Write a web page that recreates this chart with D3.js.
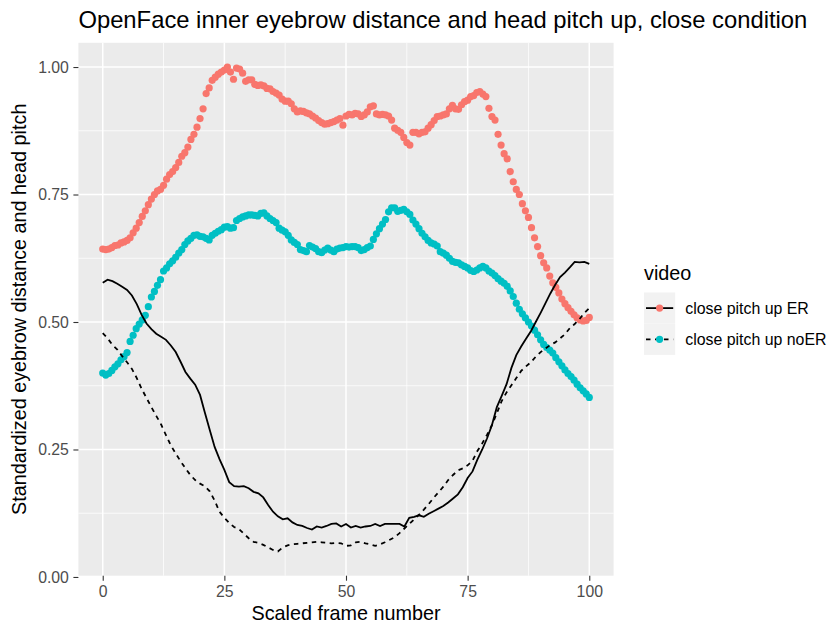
<!DOCTYPE html>
<html><head><meta charset="utf-8">
<script src="https://cdn.jsdelivr.net/npm/d3@7"></script>
<style>
body{margin:0;background:#fff}
text{font-family:"Liberation Sans",Arial,Helvetica,sans-serif}
</style>
</head><body>
<svg id="c" width="835" height="625"></svg>
<script>
const titleText = "OpenFace inner eyebrow distance and head pitch up, close condition";
const xLabel = "Scaled frame number";
const yLabel = "Standardized eyebrow distance and head pitch";
const legendTitle = "video";
const seriesNames = ["close pitch up ER", "close pitch up noER"];
const seriesColors = ["#F8766D", "#00BFC4"];
const seriesDash = [null, "4.5,4.5"];
const xTicks = [0, 25, 50, 75, 100];
const xTickLabels = ["0", "25", "50", "75", "100"];
const yTicks = [0, 0.25, 0.5, 0.75, 1];
const yTickLabels = ["0.00", "0.25", "0.50", "0.75", "1.00"];

// scaled frame numbers (evenly spaced sampling of the 0–100 axis)
const dotFrames = d3.range(161).map(i => i * 0.625);
const lineFrames = d3.range(101);

// eyebrow distance (points)
const browER = [
.643,.642,.643,.646,.650,.651,.655,.657,
.660,.665,.675,.684,.695,.707,.718,.730,
.741,.750,.757,.760,.768,.780,.789,.795,
.803,.813,.825,.832,.843,.858,.868,.882,
.899,.918,.948,.959,.974,.980,.986,.990,
.994,1.000,.990,.976,.998,.996,.988,.972,
.975,.975,.966,.964,.965,.963,.958,.957,
.952,.949,.945,.937,.933,.933,.928,.918,
.912,.914,.913,.910,.908,.904,.900,.895,
.891,.888,.889,.891,.893,.896,.899,.886,
.904,.907,.906,.909,.908,.903,.906,.912,
.922,.924,.908,.906,.907,.906,.904,.896,
.880,.876,.872,.862,.852,.847,.872,.872,
.869,.872,.873,.880,.887,.895,.903,.904,
.906,.908,.918,.925,.918,.917,.926,.932,
.935,.942,.944,.950,.952,.947,.942,.919,
.903,.896,.868,.847,.830,.820,.795,.775,
.760,.750,.732,.718,.705,.685,.665,.648,
.630,.616,.606,.590,.577,.568,.557,.545,
.536,.528,.521,.514,.508,.504,.502,.503,
.509];
const browNoER = [
.400,.396,.399,.405,.412,.418,.426,.432,
.440,.462,.474,.487,.496,.504,.513,.530,
.549,.560,.572,.583,.600,.606,.614,.620,
.627,.635,.642,.652,.659,.664,.670,.671,
.668,.667,.664,.661,.670,.674,.678,.681,
.686,.687,.684,.685,.699,.703,.706,.708,
.710,.710,.709,.708,.713,.714,.708,.703,
.699,.695,.684,.680,.677,.670,.661,.656,
.652,.642,.640,.638,.650,.647,.644,.638,
.636,.641,.645,.641,.638,.643,.645,.646,
.648,.647,.648,.648,.646,.640,.642,.646,
.649,.662,.673,.683,.692,.701,.716,.724,
.724,.717,.719,.721,.716,.711,.700,.692,
.683,.674,.667,.660,.655,.653,.649,.638,
.635,.631,.625,.619,.617,.616,.612,.609,
.606,.601,.599,.602,.606,.609,.606,.600,
.596,.591,.585,.580,.576,.570,.561,.550,
.537,.525,.516,.508,.500,.492,.484,.475,
.465,.456,.450,.445,.439,.430,.422,.414,
.406,.399,.393,.386,.378,.371,.365,.359,
.352];

// head pitch (lines)
const pitchER = [
.577,.583,.580,.575,.569,.563,.552,.535,.514,.497,
.486,.477,.471,.465,.454,.441,.422,.402,.389,.377,
.357,.322,.288,.255,.231,.210,.186,.178,.177,.178,
.174,.167,.164,.156,.141,.128,.119,.113,.115,.107,
.102,.100,.096,.093,.099,.097,.100,.104,.105,.099,
.104,.097,.100,.097,.099,.100,.104,.100,.104,.104,
.104,.104,.099,.116,.118,.121,.118,.124,.129,.134,
.139,.146,.154,.162,.176,.194,.207,.230,.250,.272,
.298,.333,.355,.378,.410,.435,.452,.467,.482,.500,
.518,.537,.556,.573,.588,.597,.607,.618,.617,.618,
.614];
const pitchNoER = [
.478,.468,.455,.446,.433,.421,.408,.390,.369,.351,
.333,.316,.299,.278,.258,.242,.227,.213,.200,.190,
.183,.178,.168,.150,.128,.116,.106,.098,.094,.085,
.076,.069,.067,.063,.058,.053,.050,.058,.062,.064,
.065,.066,.067,.068,.069,.068,.067,.066,.067,.066,
.061,.062,.068,.069,.066,.064,.061,.064,.068,.073,
.078,.086,.095,.104,.113,.122,.132,.143,.155,.166,
.177,.190,.200,.209,.213,.219,.228,.247,.262,.279,
.298,.321,.345,.362,.376,.390,.404,.413,.421,.432,
.441,.448,.455,.460,.468,.476,.488,.496,.506,.518,
.527];

const brow = [browER, browNoER];
const pitch = [pitchER, pitchNoER];

const svg = d3.select("#c");
const P = {left: 78.4, right: 613.6, top: 42.8, bottom: 575.7};

const xExt = [0, 100];
const xr = xExt[1] - xExt[0];
const x = d3.scaleLinear().domain([xExt[0] - 0.05 * xr, xExt[1] + 0.05 * xr]).range([P.left, P.right]);
const [ymn, ymx] = d3.extent(browER.concat(browNoER, pitchER, pitchNoER));
const yr = ymx - ymn;
const y = d3.scaleLinear().domain([ymn - 0.05 * yr, ymx + 0.05 * yr]).range([P.bottom, P.top]);

// panel
svg.append("rect").attr("x", P.left).attr("y", P.top)
  .attr("width", P.right - P.left).attr("height", P.bottom - P.top).attr("fill", "#EBEBEB");

const xMinor = [12.5, 37.5, 62.5, 87.5];
const yMinor = [0.125, 0.375, 0.625, 0.875];
const grid = svg.append("g");
grid.selectAll(".xm").data(xMinor).join("line")
  .attr("x1", d => x(d)).attr("x2", d => x(d)).attr("y1", P.top).attr("y2", P.bottom)
  .attr("stroke", "#fff").attr("stroke-width", 0.75);
grid.selectAll(".ym").data(yMinor).join("line")
  .attr("y1", d => y(d)).attr("y2", d => y(d)).attr("x1", P.left).attr("x2", P.right)
  .attr("stroke", "#fff").attr("stroke-width", 0.75);
grid.selectAll(".xM").data(xTicks).join("line")
  .attr("x1", d => x(d)).attr("x2", d => x(d)).attr("y1", P.top).attr("y2", P.bottom)
  .attr("stroke", "#fff").attr("stroke-width", 1.5);
grid.selectAll(".yM").data(yTicks).join("line")
  .attr("y1", d => y(d)).attr("y2", d => y(d)).attr("x1", P.left).attr("x2", P.right)
  .attr("stroke", "#fff").attr("stroke-width", 1.5);

// points
brow.forEach((vals, s) => {
  svg.append("g").selectAll("circle").data(vals).join("circle")
    .attr("cx", (d, i) => x(dotFrames[i])).attr("cy", d => y(d))
    .attr("r", 3.6).attr("fill", seriesColors[s]);
});

// lines
const line = d3.line().x((d, i) => x(lineFrames[i])).y(d => y(d));
pitch.forEach((vals, s) => {
  svg.append("path").datum(vals).attr("d", line)
    .attr("fill", "none").attr("stroke", "#000").attr("stroke-width", 1.8)
    .attr("stroke-dasharray", seriesDash[s]);
});

// axes
const xAxis = svg.append("g").attr("transform", `translate(0,${P.bottom})`)
  .call(d3.axisBottom(x).tickValues(xTicks).tickFormat((d, i) => xTickLabels[i]).tickSize(5).tickPadding(5));
const yAxis = svg.append("g").attr("transform", `translate(${P.left},0)`)
  .call(d3.axisLeft(y).tickValues(yTicks).tickFormat((d, i) => yTickLabels[i]).tickSize(5).tickPadding(4.5));
[xAxis, yAxis].forEach(a => {
  a.select(".domain").remove();
  a.selectAll(".tick line").attr("stroke", "#333333").attr("stroke-width", 1.1);
  a.selectAll(".tick text").attr("fill", "#4D4D4D").style("font-size", "15.8px")
    .style("font-family", '"Liberation Sans",Arial,sans-serif');
});

// titles
svg.append("text").attr("x", P.left).attr("y", 27.5).text(titleText)
  .style("font-size", "23.8px").attr("fill", "#000");
svg.append("text").attr("x", (P.left + P.right) / 2).attr("y", 620).attr("text-anchor", "middle")
  .text(xLabel).style("font-size", "19.8px").attr("fill", "#000");
svg.append("text").attr("transform", `translate(25.5,${(P.top + P.bottom) / 2}) rotate(-90)`)
  .attr("text-anchor", "middle").text(yLabel).style("font-size", "19.8px").attr("fill", "#000");

// legend
const L = {x: 644, keyTop: 292.5, key: 31.2};
svg.append("text").attr("x", L.x).attr("y", 280).text(legendTitle)
  .style("font-size", "19.8px").attr("fill", "#000");
seriesNames.forEach((name, s) => {
  const top = L.keyTop + s * L.key;
  const cy = top + L.key / 2;
  svg.append("rect").attr("x", L.x).attr("y", top).attr("width", L.key).attr("height", L.key).attr("fill", "#F2F2F2");
  svg.append("line").attr("x1", L.x + 2).attr("x2", L.x + L.key - 2).attr("y1", cy).attr("y2", cy)
    .attr("stroke", "#000").attr("stroke-width", 1.8).attr("stroke-dasharray", seriesDash[s]);
  svg.append("circle").attr("cx", L.x + L.key / 2).attr("cy", cy).attr("r", 3.6).attr("fill", seriesColors[s]);
  svg.append("text").attr("x", L.x + L.key + 10).attr("y", cy).attr("dy", "0.35em").text(name)
    .style("font-size", "15.9px").attr("fill", "#000");
});
</script>
</body></html>
